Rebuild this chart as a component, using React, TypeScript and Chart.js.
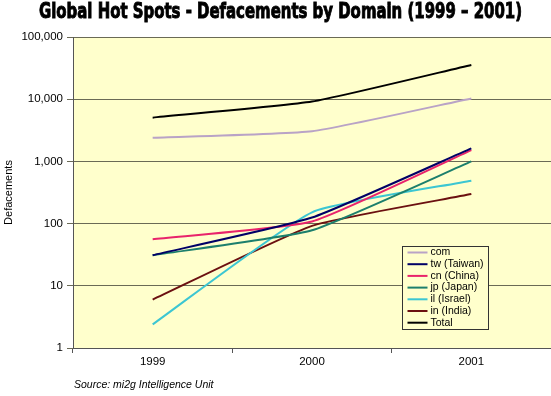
import React, { useEffect, useRef } from "react";
import { Chart, registerables } from "chart.js";

Chart.register(...registerables);

const years = ["1999", "2000", "2001"];
const seriesNames = ["com", "tw (Taiwan)", "cn (China)", "jp (Japan)", "il (Israel)", "in (India)", "Total"];
const comValues = [2400, 3050, 10300];
const twValues = [31, 125, 1620];
const cnValues = [56, 108, 1520];
const jpValues = [31, 78, 1000];
const ilValues = [2.4, 152, 490];
const inValues = [6, 92, 298];
const totalValues = [5050, 9150, 35500];
const yTickValues = [1, 10, 100, 1000, 10000, 100000];
const titleText = "Global Hot Spots - Defacements by Domain (1999 \u2013 2001)";
const sourceText = "Source: mi2g Intelligence Unit";
const yAxisTitle = "Defacements";

const seriesColors = ["#b9a3c6", "#000066", "#e8236b", "#1c7f6c", "#3cc6d2", "#6b1010", "#000000"];
const allValues = [comValues, twValues, cnValues, jpValues, ilValues, inValues, totalValues];

const decorPlugin = {
  id: "decor",
  beforeDraw(chart: any) {
    const { ctx, chartArea } = chart;
    ctx.save();
    ctx.fillStyle = "#ffffcc";
    ctx.fillRect(chartArea.left, chartArea.top, chartArea.right - chartArea.left, chartArea.bottom - chartArea.top);
    ctx.restore();
  },
  afterDraw(chart: any) {
    const { ctx, chartArea } = chart;
    ctx.save();
    // Title
    ctx.font = "bold 21px 'Liberation Sans Narrow', 'DejaVu Sans Condensed', Arial, sans-serif";
    ctx.fillStyle = "#000";
    ctx.textBaseline = "alphabetic";
    ctx.textAlign = "left";
    const w = ctx.measureText(titleText).width;
    const targetW = 483;
    const sx = targetW / w;
    ctx.save();
    ctx.translate(39, 18);
    ctx.scale(sx, 1);
    ctx.fillText(titleText, 0, 0);
    ctx.lineWidth = 0.9;
    ctx.strokeStyle = "#000";
    ctx.strokeText(titleText, 0, 0);
    ctx.restore();

    // Source
    ctx.font = "italic 10.5px 'Liberation Sans', Arial, sans-serif";
    ctx.fillStyle = "#000";
    ctx.fillText(sourceText, 74, 388);

    // Legend
    const lx = 402.5;
    const ly = 246.5;
    const lw = 86;
    const lh = 83;
    ctx.fillStyle = "#ffffcc";
    ctx.fillRect(lx, ly, lw, lh);
    ctx.strokeStyle = "#333";
    ctx.lineWidth = 1;
    ctx.strokeRect(lx, ly, lw, lh);
    ctx.font = "10.5px 'Liberation Sans', Arial, sans-serif";
    ctx.textBaseline = "middle";
    chart.data.datasets.forEach((ds: any, i: number) => {
      const cy = ly + 6 + i * 11.7;
      ctx.strokeStyle = ds.borderColor;
      ctx.lineWidth = 2;
      ctx.beginPath();
      ctx.moveTo(lx + 5, cy);
      ctx.lineTo(lx + 25, cy);
      ctx.stroke();
      ctx.fillStyle = "#000";
      ctx.fillText(ds.label, lx + 28, cy);
    });
    ctx.restore();
  },
};

export default function App() {
  const canvasRef = useRef<HTMLCanvasElement | null>(null);

  useEffect(() => {
    document.body.style.margin = "0";
    const canvas = canvasRef.current;
    if (!canvas) return;
    const chart = new Chart(canvas, {
      type: "line",
      data: {
        labels: years,
        datasets: seriesNames.map((name, i) => ({
          label: name,
          data: allValues[i],
          borderColor: seriesColors[i],
          backgroundColor: seriesColors[i],
          borderWidth: 2,
          pointRadius: 0,
          tension: 0.15,
          fill: false,
        })),
      },
      options: {
        responsive: false,
        animation: false,
        devicePixelRatio: 1,
        layout: { padding: { top: 37, right: -4, bottom: 0, left: 0 } },
        plugins: {
          legend: { display: false },
          tooltip: { enabled: false },
          title: { display: false },
        },
        scales: {
          x: {
            type: "category",
            offset: true,
            grid: {
              offset: true,
              drawOnChartArea: false,
              drawTicks: true,
              tickLength: 5,
              color: "#555",
            },
            border: { display: true, color: "#555", width: 1 },
            ticks: {
              color: "#000",
              padding: 2,
              font: { family: "'Liberation Sans', Arial, sans-serif", size: 11.5 },
            },
            afterFit: (s: any) => {
              s.height = 48;
            },
          },
          y: {
            type: "logarithmic",
            min: 1,
            max: 100000,
            afterBuildTicks: (s: any) => {
              s.ticks = yTickValues.map((v) => ({ value: v }));
            },
            grid: {
              color: "#6a6a55",
              tickLength: 6,
              drawTicks: true,
            },
            border: { display: true, color: "#555", width: 1 },
            ticks: {
              color: "#000",
              padding: 4,
              autoSkip: false,
              font: { family: "'Liberation Sans', Arial, sans-serif", size: 11.5 },
              callback: (v: any) => Number(v).toLocaleString("en-US"),
            },
            title: {
              display: true,
              text: yAxisTitle,
              color: "#000",
              padding: { top: 2, bottom: 0 },
              font: { family: "'Liberation Sans', Arial, sans-serif", size: 11 },
            },
            afterFit: (s: any) => {
              s.width = 73;
            },
          },
        },
      },
      plugins: [decorPlugin],
    } as any);
    return () => chart.destroy();
  }, []);

  return <canvas ref={canvasRef} width={551} height={396} style={{ display: "block" }} />;
}
